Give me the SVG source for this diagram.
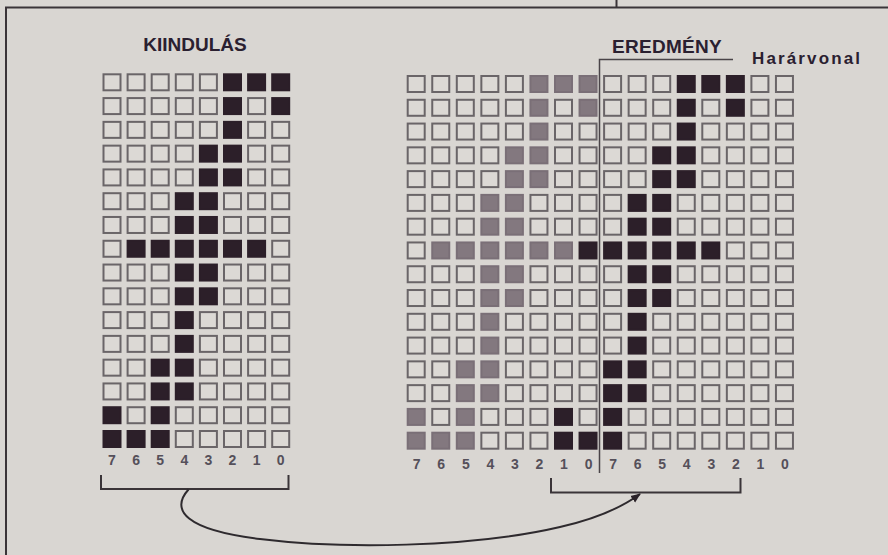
<svg xmlns="http://www.w3.org/2000/svg" width="888" height="555" viewBox="0 0 888 555">
<style>
.e{fill:#dcd9d5;stroke:#6a6568;stroke-width:2}
.d{fill:#2c1f29;stroke:#2c1f29;stroke-width:2}
.g{fill:#83787f;stroke:#7a6f77;stroke-width:2}
.ttl{font-family:"Liberation Sans",Arial,sans-serif;font-weight:bold;fill:#2a2030}
.dg{font-family:"Liberation Sans",Arial,sans-serif;font-weight:bold;font-size:14px;fill:#55505a;text-anchor:middle}
.ln{fill:none;stroke:#3a3438;stroke-width:2}
</style>
<defs>
<marker id="ah2" viewBox="0 0 10 10" refX="9" refY="5" markerWidth="10" markerHeight="10" orient="auto" markerUnits="userSpaceOnUse">
<path d="M0,1 L10,5 L0,9 Z" fill="#2a2228"/>
</marker>
</defs>
<rect x="0" y="0" width="888" height="555" fill="#d9d6d2"/>
<g id="frame" class="ln">
<path d="M5,7.5 H888"/>
<path d="M6,7 V555"/>
<path d="M616.5,0 V7.5"/>
</g>
<g id="title-kiindulas"><text class="ttl" x="195" y="51" font-size="19" text-anchor="middle">KIINDULÁS</text></g>
<g id="title-eredmeny"><text class="ttl" x="667" y="52.5" font-size="19" text-anchor="middle" letter-spacing="0.3">EREDMÉNY</text></g>
<g id="label-hatarvonal"><text class="ttl" x="752" y="64" font-size="17" textLength="108" lengthAdjust="spacing">Harárvonal</text></g>

<g id="grid-kiindulas" transform="translate(103.5,74.3)">
<g transform="translate(0,0)"><rect class="e" x="0" y="0" width="17" height="16"/><rect class="e" x="24.1" y="0" width="17" height="16"/><rect class="e" x="48.2" y="0" width="17" height="16"/><rect class="e" x="72.3" y="0" width="17" height="16"/><rect class="e" x="96.4" y="0" width="17" height="16"/><rect class="d" x="120.5" y="0" width="17" height="16"/><rect class="d" x="144.6" y="0" width="17" height="16"/><rect class="d" x="168.7" y="0" width="17" height="16"/></g>
<g transform="translate(0,23.78)"><rect class="e" x="0" y="0" width="17" height="16"/><rect class="e" x="24.1" y="0" width="17" height="16"/><rect class="e" x="48.2" y="0" width="17" height="16"/><rect class="e" x="72.3" y="0" width="17" height="16"/><rect class="e" x="96.4" y="0" width="17" height="16"/><rect class="d" x="120.5" y="0" width="17" height="16"/><rect class="e" x="144.6" y="0" width="17" height="16"/><rect class="d" x="168.7" y="0" width="17" height="16"/></g>
<g transform="translate(0,47.56)"><rect class="e" x="0" y="0" width="17" height="16"/><rect class="e" x="24.1" y="0" width="17" height="16"/><rect class="e" x="48.2" y="0" width="17" height="16"/><rect class="e" x="72.3" y="0" width="17" height="16"/><rect class="e" x="96.4" y="0" width="17" height="16"/><rect class="d" x="120.5" y="0" width="17" height="16"/><rect class="e" x="144.6" y="0" width="17" height="16"/><rect class="e" x="168.7" y="0" width="17" height="16"/></g>
<g transform="translate(0,71.34)"><rect class="e" x="0" y="0" width="17" height="16"/><rect class="e" x="24.1" y="0" width="17" height="16"/><rect class="e" x="48.2" y="0" width="17" height="16"/><rect class="e" x="72.3" y="0" width="17" height="16"/><rect class="d" x="96.4" y="0" width="17" height="16"/><rect class="d" x="120.5" y="0" width="17" height="16"/><rect class="e" x="144.6" y="0" width="17" height="16"/><rect class="e" x="168.7" y="0" width="17" height="16"/></g>
<g transform="translate(0,95.12)"><rect class="e" x="0" y="0" width="17" height="16"/><rect class="e" x="24.1" y="0" width="17" height="16"/><rect class="e" x="48.2" y="0" width="17" height="16"/><rect class="e" x="72.3" y="0" width="17" height="16"/><rect class="d" x="96.4" y="0" width="17" height="16"/><rect class="d" x="120.5" y="0" width="17" height="16"/><rect class="e" x="144.6" y="0" width="17" height="16"/><rect class="e" x="168.7" y="0" width="17" height="16"/></g>
<g transform="translate(0,118.9)"><rect class="e" x="0" y="0" width="17" height="16"/><rect class="e" x="24.1" y="0" width="17" height="16"/><rect class="e" x="48.2" y="0" width="17" height="16"/><rect class="d" x="72.3" y="0" width="17" height="16"/><rect class="d" x="96.4" y="0" width="17" height="16"/><rect class="e" x="120.5" y="0" width="17" height="16"/><rect class="e" x="144.6" y="0" width="17" height="16"/><rect class="e" x="168.7" y="0" width="17" height="16"/></g>
<g transform="translate(0,142.68)"><rect class="e" x="0" y="0" width="17" height="16"/><rect class="e" x="24.1" y="0" width="17" height="16"/><rect class="e" x="48.2" y="0" width="17" height="16"/><rect class="d" x="72.3" y="0" width="17" height="16"/><rect class="d" x="96.4" y="0" width="17" height="16"/><rect class="e" x="120.5" y="0" width="17" height="16"/><rect class="e" x="144.6" y="0" width="17" height="16"/><rect class="e" x="168.7" y="0" width="17" height="16"/></g>
<g transform="translate(0,166.46)"><rect class="e" x="0" y="0" width="17" height="16"/><rect class="d" x="24.1" y="0" width="17" height="16"/><rect class="d" x="48.2" y="0" width="17" height="16"/><rect class="d" x="72.3" y="0" width="17" height="16"/><rect class="d" x="96.4" y="0" width="17" height="16"/><rect class="d" x="120.5" y="0" width="17" height="16"/><rect class="d" x="144.6" y="0" width="17" height="16"/><rect class="e" x="168.7" y="0" width="17" height="16"/></g>
<g transform="translate(0,190.24)"><rect class="e" x="0" y="0" width="17" height="16"/><rect class="e" x="24.1" y="0" width="17" height="16"/><rect class="e" x="48.2" y="0" width="17" height="16"/><rect class="d" x="72.3" y="0" width="17" height="16"/><rect class="d" x="96.4" y="0" width="17" height="16"/><rect class="e" x="120.5" y="0" width="17" height="16"/><rect class="e" x="144.6" y="0" width="17" height="16"/><rect class="e" x="168.7" y="0" width="17" height="16"/></g>
<g transform="translate(0,214.02)"><rect class="e" x="0" y="0" width="17" height="16"/><rect class="e" x="24.1" y="0" width="17" height="16"/><rect class="e" x="48.2" y="0" width="17" height="16"/><rect class="d" x="72.3" y="0" width="17" height="16"/><rect class="d" x="96.4" y="0" width="17" height="16"/><rect class="e" x="120.5" y="0" width="17" height="16"/><rect class="e" x="144.6" y="0" width="17" height="16"/><rect class="e" x="168.7" y="0" width="17" height="16"/></g>
<g transform="translate(0,237.8)"><rect class="e" x="0" y="0" width="17" height="16"/><rect class="e" x="24.1" y="0" width="17" height="16"/><rect class="e" x="48.2" y="0" width="17" height="16"/><rect class="d" x="72.3" y="0" width="17" height="16"/><rect class="e" x="96.4" y="0" width="17" height="16"/><rect class="e" x="120.5" y="0" width="17" height="16"/><rect class="e" x="144.6" y="0" width="17" height="16"/><rect class="e" x="168.7" y="0" width="17" height="16"/></g>
<g transform="translate(0,261.58)"><rect class="e" x="0" y="0" width="17" height="16"/><rect class="e" x="24.1" y="0" width="17" height="16"/><rect class="e" x="48.2" y="0" width="17" height="16"/><rect class="d" x="72.3" y="0" width="17" height="16"/><rect class="e" x="96.4" y="0" width="17" height="16"/><rect class="e" x="120.5" y="0" width="17" height="16"/><rect class="e" x="144.6" y="0" width="17" height="16"/><rect class="e" x="168.7" y="0" width="17" height="16"/></g>
<g transform="translate(0,285.36)"><rect class="e" x="0" y="0" width="17" height="16"/><rect class="e" x="24.1" y="0" width="17" height="16"/><rect class="d" x="48.2" y="0" width="17" height="16"/><rect class="d" x="72.3" y="0" width="17" height="16"/><rect class="e" x="96.4" y="0" width="17" height="16"/><rect class="e" x="120.5" y="0" width="17" height="16"/><rect class="e" x="144.6" y="0" width="17" height="16"/><rect class="e" x="168.7" y="0" width="17" height="16"/></g>
<g transform="translate(0,309.14)"><rect class="e" x="0" y="0" width="17" height="16"/><rect class="e" x="24.1" y="0" width="17" height="16"/><rect class="d" x="48.2" y="0" width="17" height="16"/><rect class="d" x="72.3" y="0" width="17" height="16"/><rect class="e" x="96.4" y="0" width="17" height="16"/><rect class="e" x="120.5" y="0" width="17" height="16"/><rect class="e" x="144.6" y="0" width="17" height="16"/><rect class="e" x="168.7" y="0" width="17" height="16"/></g>
<g transform="translate(0,332.92)"><rect class="d" x="0" y="0" width="17" height="16"/><rect class="e" x="24.1" y="0" width="17" height="16"/><rect class="d" x="48.2" y="0" width="17" height="16"/><rect class="e" x="72.3" y="0" width="17" height="16"/><rect class="e" x="96.4" y="0" width="17" height="16"/><rect class="e" x="120.5" y="0" width="17" height="16"/><rect class="e" x="144.6" y="0" width="17" height="16"/><rect class="e" x="168.7" y="0" width="17" height="16"/></g>
<g transform="translate(0,356.7)"><rect class="d" x="0" y="0" width="17" height="16"/><rect class="d" x="24.1" y="0" width="17" height="16"/><rect class="d" x="48.2" y="0" width="17" height="16"/><rect class="e" x="72.3" y="0" width="17" height="16"/><rect class="e" x="96.4" y="0" width="17" height="16"/><rect class="e" x="120.5" y="0" width="17" height="16"/><rect class="e" x="144.6" y="0" width="17" height="16"/><rect class="e" x="168.7" y="0" width="17" height="16"/></g>
</g>

<g id="digits-kiindulas" class="dg">
<text x="112" y="465">7</text><text x="136.1" y="465">6</text><text x="160.2" y="465">5</text><text x="184.3" y="465">4</text><text x="208.4" y="465">3</text><text x="232.5" y="465">2</text><text x="256.6" y="465">1</text><text x="280.7" y="465">0</text>
</g>

<g id="grid-eredmeny" transform="translate(407.7,76)">
<g transform="translate(0,0)"><rect class="e" x="0" y="0" width="17" height="16"/><rect class="e" x="24.55" y="0" width="17" height="16"/><rect class="e" x="49.1" y="0" width="17" height="16"/><rect class="e" x="73.65" y="0" width="17" height="16"/><rect class="e" x="98.2" y="0" width="17" height="16"/><rect class="g" x="122.75" y="0" width="17" height="16"/><rect class="g" x="147.3" y="0" width="17" height="16"/><rect class="g" x="171.85" y="0" width="17" height="16"/><rect class="e" x="196.4" y="0" width="17" height="16"/><rect class="e" x="220.95" y="0" width="17" height="16"/><rect class="e" x="245.5" y="0" width="17" height="16"/><rect class="d" x="270.05" y="0" width="17" height="16"/><rect class="d" x="294.6" y="0" width="17" height="16"/><rect class="d" x="319.15" y="0" width="17" height="16"/><rect class="e" x="343.7" y="0" width="17" height="16"/><rect class="e" x="368.25" y="0" width="17" height="16"/></g>
<g transform="translate(0,23.78)"><rect class="e" x="0" y="0" width="17" height="16"/><rect class="e" x="24.55" y="0" width="17" height="16"/><rect class="e" x="49.1" y="0" width="17" height="16"/><rect class="e" x="73.65" y="0" width="17" height="16"/><rect class="e" x="98.2" y="0" width="17" height="16"/><rect class="g" x="122.75" y="0" width="17" height="16"/><rect class="e" x="147.3" y="0" width="17" height="16"/><rect class="g" x="171.85" y="0" width="17" height="16"/><rect class="e" x="196.4" y="0" width="17" height="16"/><rect class="e" x="220.95" y="0" width="17" height="16"/><rect class="e" x="245.5" y="0" width="17" height="16"/><rect class="d" x="270.05" y="0" width="17" height="16"/><rect class="e" x="294.6" y="0" width="17" height="16"/><rect class="d" x="319.15" y="0" width="17" height="16"/><rect class="e" x="343.7" y="0" width="17" height="16"/><rect class="e" x="368.25" y="0" width="17" height="16"/></g>
<g transform="translate(0,47.56)"><rect class="e" x="0" y="0" width="17" height="16"/><rect class="e" x="24.55" y="0" width="17" height="16"/><rect class="e" x="49.1" y="0" width="17" height="16"/><rect class="e" x="73.65" y="0" width="17" height="16"/><rect class="e" x="98.2" y="0" width="17" height="16"/><rect class="g" x="122.75" y="0" width="17" height="16"/><rect class="e" x="147.3" y="0" width="17" height="16"/><rect class="e" x="171.85" y="0" width="17" height="16"/><rect class="e" x="196.4" y="0" width="17" height="16"/><rect class="e" x="220.95" y="0" width="17" height="16"/><rect class="e" x="245.5" y="0" width="17" height="16"/><rect class="d" x="270.05" y="0" width="17" height="16"/><rect class="e" x="294.6" y="0" width="17" height="16"/><rect class="e" x="319.15" y="0" width="17" height="16"/><rect class="e" x="343.7" y="0" width="17" height="16"/><rect class="e" x="368.25" y="0" width="17" height="16"/></g>
<g transform="translate(0,71.34)"><rect class="e" x="0" y="0" width="17" height="16"/><rect class="e" x="24.55" y="0" width="17" height="16"/><rect class="e" x="49.1" y="0" width="17" height="16"/><rect class="e" x="73.65" y="0" width="17" height="16"/><rect class="g" x="98.2" y="0" width="17" height="16"/><rect class="g" x="122.75" y="0" width="17" height="16"/><rect class="e" x="147.3" y="0" width="17" height="16"/><rect class="e" x="171.85" y="0" width="17" height="16"/><rect class="e" x="196.4" y="0" width="17" height="16"/><rect class="e" x="220.95" y="0" width="17" height="16"/><rect class="d" x="245.5" y="0" width="17" height="16"/><rect class="d" x="270.05" y="0" width="17" height="16"/><rect class="e" x="294.6" y="0" width="17" height="16"/><rect class="e" x="319.15" y="0" width="17" height="16"/><rect class="e" x="343.7" y="0" width="17" height="16"/><rect class="e" x="368.25" y="0" width="17" height="16"/></g>
<g transform="translate(0,95.12)"><rect class="e" x="0" y="0" width="17" height="16"/><rect class="e" x="24.55" y="0" width="17" height="16"/><rect class="e" x="49.1" y="0" width="17" height="16"/><rect class="e" x="73.65" y="0" width="17" height="16"/><rect class="g" x="98.2" y="0" width="17" height="16"/><rect class="g" x="122.75" y="0" width="17" height="16"/><rect class="e" x="147.3" y="0" width="17" height="16"/><rect class="e" x="171.85" y="0" width="17" height="16"/><rect class="e" x="196.4" y="0" width="17" height="16"/><rect class="e" x="220.95" y="0" width="17" height="16"/><rect class="d" x="245.5" y="0" width="17" height="16"/><rect class="d" x="270.05" y="0" width="17" height="16"/><rect class="e" x="294.6" y="0" width="17" height="16"/><rect class="e" x="319.15" y="0" width="17" height="16"/><rect class="e" x="343.7" y="0" width="17" height="16"/><rect class="e" x="368.25" y="0" width="17" height="16"/></g>
<g transform="translate(0,118.9)"><rect class="e" x="0" y="0" width="17" height="16"/><rect class="e" x="24.55" y="0" width="17" height="16"/><rect class="e" x="49.1" y="0" width="17" height="16"/><rect class="g" x="73.65" y="0" width="17" height="16"/><rect class="g" x="98.2" y="0" width="17" height="16"/><rect class="e" x="122.75" y="0" width="17" height="16"/><rect class="e" x="147.3" y="0" width="17" height="16"/><rect class="e" x="171.85" y="0" width="17" height="16"/><rect class="e" x="196.4" y="0" width="17" height="16"/><rect class="d" x="220.95" y="0" width="17" height="16"/><rect class="d" x="245.5" y="0" width="17" height="16"/><rect class="e" x="270.05" y="0" width="17" height="16"/><rect class="e" x="294.6" y="0" width="17" height="16"/><rect class="e" x="319.15" y="0" width="17" height="16"/><rect class="e" x="343.7" y="0" width="17" height="16"/><rect class="e" x="368.25" y="0" width="17" height="16"/></g>
<g transform="translate(0,142.68)"><rect class="e" x="0" y="0" width="17" height="16"/><rect class="e" x="24.55" y="0" width="17" height="16"/><rect class="e" x="49.1" y="0" width="17" height="16"/><rect class="g" x="73.65" y="0" width="17" height="16"/><rect class="g" x="98.2" y="0" width="17" height="16"/><rect class="e" x="122.75" y="0" width="17" height="16"/><rect class="e" x="147.3" y="0" width="17" height="16"/><rect class="e" x="171.85" y="0" width="17" height="16"/><rect class="e" x="196.4" y="0" width="17" height="16"/><rect class="d" x="220.95" y="0" width="17" height="16"/><rect class="d" x="245.5" y="0" width="17" height="16"/><rect class="e" x="270.05" y="0" width="17" height="16"/><rect class="e" x="294.6" y="0" width="17" height="16"/><rect class="e" x="319.15" y="0" width="17" height="16"/><rect class="e" x="343.7" y="0" width="17" height="16"/><rect class="e" x="368.25" y="0" width="17" height="16"/></g>
<g transform="translate(0,166.46)"><rect class="e" x="0" y="0" width="17" height="16"/><rect class="g" x="24.55" y="0" width="17" height="16"/><rect class="g" x="49.1" y="0" width="17" height="16"/><rect class="g" x="73.65" y="0" width="17" height="16"/><rect class="g" x="98.2" y="0" width="17" height="16"/><rect class="g" x="122.75" y="0" width="17" height="16"/><rect class="g" x="147.3" y="0" width="17" height="16"/><rect class="d" x="171.85" y="0" width="17" height="16"/><rect class="d" x="196.4" y="0" width="17" height="16"/><rect class="d" x="220.95" y="0" width="17" height="16"/><rect class="d" x="245.5" y="0" width="17" height="16"/><rect class="d" x="270.05" y="0" width="17" height="16"/><rect class="d" x="294.6" y="0" width="17" height="16"/><rect class="e" x="319.15" y="0" width="17" height="16"/><rect class="e" x="343.7" y="0" width="17" height="16"/><rect class="e" x="368.25" y="0" width="17" height="16"/></g>
<g transform="translate(0,190.24)"><rect class="e" x="0" y="0" width="17" height="16"/><rect class="e" x="24.55" y="0" width="17" height="16"/><rect class="e" x="49.1" y="0" width="17" height="16"/><rect class="g" x="73.65" y="0" width="17" height="16"/><rect class="g" x="98.2" y="0" width="17" height="16"/><rect class="e" x="122.75" y="0" width="17" height="16"/><rect class="e" x="147.3" y="0" width="17" height="16"/><rect class="e" x="171.85" y="0" width="17" height="16"/><rect class="e" x="196.4" y="0" width="17" height="16"/><rect class="d" x="220.95" y="0" width="17" height="16"/><rect class="d" x="245.5" y="0" width="17" height="16"/><rect class="e" x="270.05" y="0" width="17" height="16"/><rect class="e" x="294.6" y="0" width="17" height="16"/><rect class="e" x="319.15" y="0" width="17" height="16"/><rect class="e" x="343.7" y="0" width="17" height="16"/><rect class="e" x="368.25" y="0" width="17" height="16"/></g>
<g transform="translate(0,214.02)"><rect class="e" x="0" y="0" width="17" height="16"/><rect class="e" x="24.55" y="0" width="17" height="16"/><rect class="e" x="49.1" y="0" width="17" height="16"/><rect class="g" x="73.65" y="0" width="17" height="16"/><rect class="g" x="98.2" y="0" width="17" height="16"/><rect class="e" x="122.75" y="0" width="17" height="16"/><rect class="e" x="147.3" y="0" width="17" height="16"/><rect class="e" x="171.85" y="0" width="17" height="16"/><rect class="e" x="196.4" y="0" width="17" height="16"/><rect class="d" x="220.95" y="0" width="17" height="16"/><rect class="d" x="245.5" y="0" width="17" height="16"/><rect class="e" x="270.05" y="0" width="17" height="16"/><rect class="e" x="294.6" y="0" width="17" height="16"/><rect class="e" x="319.15" y="0" width="17" height="16"/><rect class="e" x="343.7" y="0" width="17" height="16"/><rect class="e" x="368.25" y="0" width="17" height="16"/></g>
<g transform="translate(0,237.8)"><rect class="e" x="0" y="0" width="17" height="16"/><rect class="e" x="24.55" y="0" width="17" height="16"/><rect class="e" x="49.1" y="0" width="17" height="16"/><rect class="g" x="73.65" y="0" width="17" height="16"/><rect class="e" x="98.2" y="0" width="17" height="16"/><rect class="e" x="122.75" y="0" width="17" height="16"/><rect class="e" x="147.3" y="0" width="17" height="16"/><rect class="e" x="171.85" y="0" width="17" height="16"/><rect class="e" x="196.4" y="0" width="17" height="16"/><rect class="d" x="220.95" y="0" width="17" height="16"/><rect class="e" x="245.5" y="0" width="17" height="16"/><rect class="e" x="270.05" y="0" width="17" height="16"/><rect class="e" x="294.6" y="0" width="17" height="16"/><rect class="e" x="319.15" y="0" width="17" height="16"/><rect class="e" x="343.7" y="0" width="17" height="16"/><rect class="e" x="368.25" y="0" width="17" height="16"/></g>
<g transform="translate(0,261.58)"><rect class="e" x="0" y="0" width="17" height="16"/><rect class="e" x="24.55" y="0" width="17" height="16"/><rect class="e" x="49.1" y="0" width="17" height="16"/><rect class="g" x="73.65" y="0" width="17" height="16"/><rect class="e" x="98.2" y="0" width="17" height="16"/><rect class="e" x="122.75" y="0" width="17" height="16"/><rect class="e" x="147.3" y="0" width="17" height="16"/><rect class="e" x="171.85" y="0" width="17" height="16"/><rect class="e" x="196.4" y="0" width="17" height="16"/><rect class="d" x="220.95" y="0" width="17" height="16"/><rect class="e" x="245.5" y="0" width="17" height="16"/><rect class="e" x="270.05" y="0" width="17" height="16"/><rect class="e" x="294.6" y="0" width="17" height="16"/><rect class="e" x="319.15" y="0" width="17" height="16"/><rect class="e" x="343.7" y="0" width="17" height="16"/><rect class="e" x="368.25" y="0" width="17" height="16"/></g>
<g transform="translate(0,285.36)"><rect class="e" x="0" y="0" width="17" height="16"/><rect class="e" x="24.55" y="0" width="17" height="16"/><rect class="g" x="49.1" y="0" width="17" height="16"/><rect class="g" x="73.65" y="0" width="17" height="16"/><rect class="e" x="98.2" y="0" width="17" height="16"/><rect class="e" x="122.75" y="0" width="17" height="16"/><rect class="e" x="147.3" y="0" width="17" height="16"/><rect class="e" x="171.85" y="0" width="17" height="16"/><rect class="d" x="196.4" y="0" width="17" height="16"/><rect class="d" x="220.95" y="0" width="17" height="16"/><rect class="e" x="245.5" y="0" width="17" height="16"/><rect class="e" x="270.05" y="0" width="17" height="16"/><rect class="e" x="294.6" y="0" width="17" height="16"/><rect class="e" x="319.15" y="0" width="17" height="16"/><rect class="e" x="343.7" y="0" width="17" height="16"/><rect class="e" x="368.25" y="0" width="17" height="16"/></g>
<g transform="translate(0,309.14)"><rect class="e" x="0" y="0" width="17" height="16"/><rect class="e" x="24.55" y="0" width="17" height="16"/><rect class="g" x="49.1" y="0" width="17" height="16"/><rect class="g" x="73.65" y="0" width="17" height="16"/><rect class="e" x="98.2" y="0" width="17" height="16"/><rect class="e" x="122.75" y="0" width="17" height="16"/><rect class="e" x="147.3" y="0" width="17" height="16"/><rect class="e" x="171.85" y="0" width="17" height="16"/><rect class="d" x="196.4" y="0" width="17" height="16"/><rect class="d" x="220.95" y="0" width="17" height="16"/><rect class="e" x="245.5" y="0" width="17" height="16"/><rect class="e" x="270.05" y="0" width="17" height="16"/><rect class="e" x="294.6" y="0" width="17" height="16"/><rect class="e" x="319.15" y="0" width="17" height="16"/><rect class="e" x="343.7" y="0" width="17" height="16"/><rect class="e" x="368.25" y="0" width="17" height="16"/></g>
<g transform="translate(0,332.92)"><rect class="g" x="0" y="0" width="17" height="16"/><rect class="e" x="24.55" y="0" width="17" height="16"/><rect class="g" x="49.1" y="0" width="17" height="16"/><rect class="e" x="73.65" y="0" width="17" height="16"/><rect class="e" x="98.2" y="0" width="17" height="16"/><rect class="e" x="122.75" y="0" width="17" height="16"/><rect class="d" x="147.3" y="0" width="17" height="16"/><rect class="e" x="171.85" y="0" width="17" height="16"/><rect class="d" x="196.4" y="0" width="17" height="16"/><rect class="e" x="220.95" y="0" width="17" height="16"/><rect class="e" x="245.5" y="0" width="17" height="16"/><rect class="e" x="270.05" y="0" width="17" height="16"/><rect class="e" x="294.6" y="0" width="17" height="16"/><rect class="e" x="319.15" y="0" width="17" height="16"/><rect class="e" x="343.7" y="0" width="17" height="16"/><rect class="e" x="368.25" y="0" width="17" height="16"/></g>
<g transform="translate(0,356.7)"><rect class="g" x="0" y="0" width="17" height="16"/><rect class="g" x="24.55" y="0" width="17" height="16"/><rect class="g" x="49.1" y="0" width="17" height="16"/><rect class="e" x="73.65" y="0" width="17" height="16"/><rect class="e" x="98.2" y="0" width="17" height="16"/><rect class="e" x="122.75" y="0" width="17" height="16"/><rect class="d" x="147.3" y="0" width="17" height="16"/><rect class="d" x="171.85" y="0" width="17" height="16"/><rect class="d" x="196.4" y="0" width="17" height="16"/><rect class="e" x="220.95" y="0" width="17" height="16"/><rect class="e" x="245.5" y="0" width="17" height="16"/><rect class="e" x="270.05" y="0" width="17" height="16"/><rect class="e" x="294.6" y="0" width="17" height="16"/><rect class="e" x="319.15" y="0" width="17" height="16"/><rect class="e" x="343.7" y="0" width="17" height="16"/><rect class="e" x="368.25" y="0" width="17" height="16"/></g>
</g>

<g id="digits-eredmeny" class="dg">
<text x="416.7" y="469">7</text><text x="441.25" y="469">6</text><text x="465.8" y="469">5</text><text x="490.35" y="469">4</text><text x="514.9" y="469">3</text><text x="539.45" y="469">2</text><text x="564" y="469">1</text><text x="588.55" y="469">0</text>
<text x="613.1" y="469">7</text><text x="637.65" y="469">6</text><text x="662.2" y="469">5</text><text x="686.75" y="469">4</text><text x="711.3" y="469">3</text><text x="735.85" y="469">2</text><text x="760.4" y="469">1</text><text x="784.95" y="469">0</text>
</g>

<g id="connectors">
<path id="hatarvonal-line" d="M733,59.5 H599.5 V473" fill="none" stroke="#4a4448" stroke-width="1.5"/>
<path id="bracket-src" class="ln" d="M101,475 V489 H288.5 V475"/>
<path id="bracket-dst" class="ln" d="M551,478 V492.5 H740.5 V478"/>
<path id="shift-arrow" d="M188.5,489.5 C170,510 185,530 260,539 C340,549 470,548 560,527 C600,518 625,505 640,494" fill="none" stroke="#2e2a2e" stroke-width="2" marker-end="url(#ah2)"/>
</g>
</svg>
